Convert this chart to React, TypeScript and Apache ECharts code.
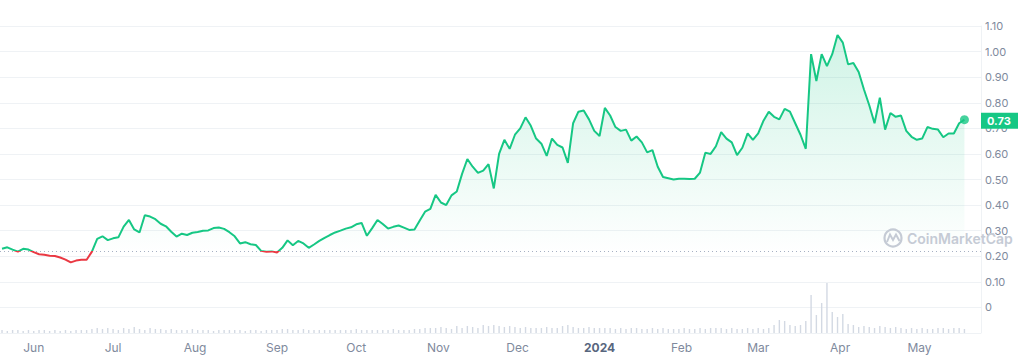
import React, { useEffect, useRef } from 'react';
import * as echarts from 'echarts';

// Daily data sampled every 2 days, starting 2023-05-20
const startDate = '2023-05-20';
const stepDays = 2;

const prices = [
  0.229, 0.235, 0.226, 0.218, 0.229, 0.226, 0.216, 0.208, 0.206, 0.202,
  0.201, 0.195, 0.187, 0.176, 0.183, 0.186, 0.186, 0.218, 0.268, 0.278,
  0.263, 0.27, 0.274, 0.316, 0.342, 0.305, 0.293, 0.36, 0.355, 0.345,
  0.327, 0.317, 0.296, 0.277, 0.288, 0.283, 0.292, 0.295, 0.3, 0.301,
  0.31, 0.312, 0.307, 0.294, 0.278, 0.25, 0.255, 0.247, 0.244, 0.221,
  0.218, 0.219, 0.215, 0.233, 0.262, 0.243, 0.26, 0.25, 0.233, 0.246,
  0.26, 0.272, 0.283, 0.293, 0.3, 0.308, 0.313, 0.325, 0.33, 0.28,
  0.31, 0.342, 0.326, 0.308, 0.315, 0.32, 0.312, 0.303, 0.305, 0.34,
  0.374, 0.385, 0.44, 0.41, 0.4, 0.438, 0.453, 0.522, 0.58, 0.55,
  0.526, 0.535, 0.56, 0.465, 0.6, 0.655, 0.62, 0.675, 0.7, 0.743,
  0.71, 0.66, 0.64, 0.592, 0.66, 0.635, 0.625, 0.565, 0.72, 0.765,
  0.77, 0.735, 0.69, 0.67, 0.78, 0.75, 0.705, 0.69, 0.695, 0.652,
  0.668, 0.645, 0.606, 0.615, 0.55, 0.51, 0.505, 0.5, 0.503, 0.503,
  0.502, 0.503, 0.527, 0.605, 0.6, 0.63, 0.685, 0.66, 0.645, 0.595,
  0.624, 0.68, 0.655, 0.68, 0.73, 0.765, 0.745, 0.735, 0.776, 0.765,
  0.72, 0.675, 0.62, 0.99, 0.885, 0.99, 0.943, 0.99, 1.065, 1.035,
  0.95, 0.955, 0.92, 0.852, 0.79, 0.72, 0.82, 0.695, 0.76, 0.745,
  0.75, 0.69, 0.667, 0.655, 0.66, 0.705, 0.698, 0.695, 0.665, 0.68,
  0.68, 0.72, 0.734,
];

// Volume (millions USD)
const volumes = [
  3, 2, 3, 3, 2, 3, 2, 3, 3, 2, 3, 2, 3, 2, 3, 3, 3,
  4, 5, 4, 5, 4, 3, 5, 4, 6, 4, 3, 5, 4, 4,
  3, 4, 3, 3, 3, 4, 3, 3, 3, 2, 3, 3, 3, 3, 3, 2, 3, 3, 2, 3, 3, 3, 4, 4, 3, 3, 4, 3, 3, 3,
  3, 3, 3, 3, 3, 3, 4, 3, 3, 3, 3, 3, 3, 4, 3, 3, 3, 4, 4, 5,
  5, 5, 6, 5, 4, 7, 5, 7, 6, 5, 8, 7, 8, 7, 6, 7, 6, 5, 6, 5, 5, 5, 6, 5, 5, 7, 8, 6, 5, 5,
  6, 5, 5, 5, 5, 4, 5, 4, 5, 5, 4, 4, 5, 4, 5, 4, 4, 4, 5, 4, 4, 5, 4, 5, 5, 5, 4, 5, 4, 4,
  5, 4, 5, 4, 5, 8, 13, 12, 8, 7,
  8, 12, 38, 18, 30, 50, 21, 16, 19, 9, 8, 6,
  7, 6, 5, 7, 6, 5, 6, 5, 4, 5, 4, 5, 4, 4, 5, 5, 4, 5, 5, 4,
];

const baselinePrice = 0.222;
const monthNames = ['Jan', 'Feb', 'Mar', 'Apr', 'May', 'Jun', 'Jul', 'Aug', 'Sep', 'Oct', 'Nov', 'Dec'];

const GREEN = '#16c784';
const RED = '#ea3943';
const DAY = 86400000;

export default function App() {
  const ref = useRef<HTMLDivElement>(null);

  useEffect(() => {
    document.body.style.margin = '0';
    const chart = echarts.init(ref.current!, undefined, { renderer: 'svg' });

    const t0 = Date.parse(startDate + 'T00:00:00');
    const priceData = prices.map((p, i) => [t0 + i * stepDays * DAY, p]);
    const volData = volumes.map((v, i) => [t0 + i * stepDays * DAY, v]);
    const last = priceData[priceData.length - 1];

    chart.setOption({
      animation: false,
      textStyle: { fontFamily: 'Inter' },
      grid: { left: 0, right: 37, top: 26, bottom: 23 },
      visualMap: {
        type: 'piecewise',
        show: false,
        dimension: 1,
        seriesIndex: 0,
        pieces: [
          { gte: -1, lt: baselinePrice, color: RED },
          { gte: baselinePrice, lte: 5, color: GREEN },
        ],
        outOfRange: { color: GREEN },
      },
      xAxis: {
        type: 'time',
        min: t0 - 0.5 * DAY,
        max: t0 + 370 * DAY,
        minInterval: 28 * DAY,
        maxInterval: 31 * DAY,
        axisLine: { show: false },
        axisTick: { show: false },
        splitLine: { show: false },
        axisLabel: {
          margin: 8,
          color: '#808a9d',
          fontSize: 12,
          showMinLabel: false,
          showMaxLabel: false,
          hideOverlap: false,
          formatter: (v: number) => {
            const d = new Date(v);
            const m = d.getMonth();
            if (m === 0) return `{y|${d.getFullYear()}}`;
            return monthNames[m];
          },
          rich: {
            y: { fontWeight: 'bold', color: '#58667e', fontSize: 12 },
          },
        },
      },
      yAxis: [
        {
          type: 'value',
          position: 'right',
          min: -0.1,
          max: 1.1,
          interval: 0.1,
          axisLine: { show: true, lineStyle: { color: '#eff2f5' } },
          axisTick: { show: false },
          splitLine: { show: true, lineStyle: { color: '#eff2f5', width: 1 } },
          axisLabel: {
            margin: 4,
            color: '#808a9d',
            fontSize: 11,
            formatter: (v: number) => {
              const r = Math.round(v * 100) / 100;
              if (r < 0) return '';
              if (r === 0) return '0';
              return r.toFixed(2);
            },
          },
        },
        {
          type: 'value',
          min: 0,
          max: 307,
          show: false,
          splitLine: { show: false },
        },
      ],
      series: [
        {
          type: 'line',
          data: priceData,
          showSymbol: false,
          symbol: 'none',
          lineStyle: { width: 2 },
          z: 5,
          areaStyle: {
            origin: baselinePrice,
            color: new echarts.graphic.LinearGradient(0, 26, 0, 255, [
              { offset: 0, color: 'rgba(22,199,132,0.30)' },
              { offset: 1, color: 'rgba(22,199,132,0.0)' },
            ], true),
          },
          markLine: {
            silent: true,
            symbol: 'none',
            animation: false,
            data: [
              {
                yAxis: baselinePrice,
                lineStyle: { type: [1, 3], color: '#a6b0c3', width: 1 },
                label: { show: false },
              },
              {
                yAxis: last[1],
                lineStyle: { color: 'rgba(255,255,255,0)', width: 0 },
                label: {
                  show: true,
                  position: 'end',
                  distance: 0,
                  formatter: last[1].toFixed(2),
                  backgroundColor: GREEN,
                  color: '#ffffff',
                  opacity: 1,
                  fontWeight: 'bold',
                  fontSize: 11,
                  padding: [3, 10, 2, 6],
                },
              },
            ],
          },
        },
        {
          type: 'bar',
          yAxisIndex: 1,
          data: volData,
          barWidth: 1.4,
          itemStyle: { color: '#d3d9e3' },
          silent: true,
          z: 2,
        },
        {
          type: 'scatter',
          data: [last],
          symbolSize: 9,
          itemStyle: { color: GREEN },
          z: 6,
          silent: true,
        },
      ],
      graphic: [
        {
          type: 'circle',
          z: 100,
          shape: { cx: 893, cy: 238, r: 8.5 },
          style: { fill: 'none', stroke: '#c5cbd5', lineWidth: 2.2 },
        },
        {
          type: 'polyline',
          z: 100,
          shape: { points: [[887, 242], [890, 234.5], [893, 240], [896, 234.5], [899.5, 241]] },
          style: { fill: 'none', stroke: '#c5cbd5', lineWidth: 2 },
        },
        {
          type: 'text',
          z: 100,
          style: {
            x: 907,
            y: 238,
            text: 'CoinMarketCap',
            fill: '#c5cbd5',
            font: '600 14px Inter',
            textVerticalAlign: 'middle',
          },
        },
      ],
    });

    return () => chart.dispose();
  }, []);

  return <div ref={ref} style={{ width: 1018, height: 356 }} />;
}
